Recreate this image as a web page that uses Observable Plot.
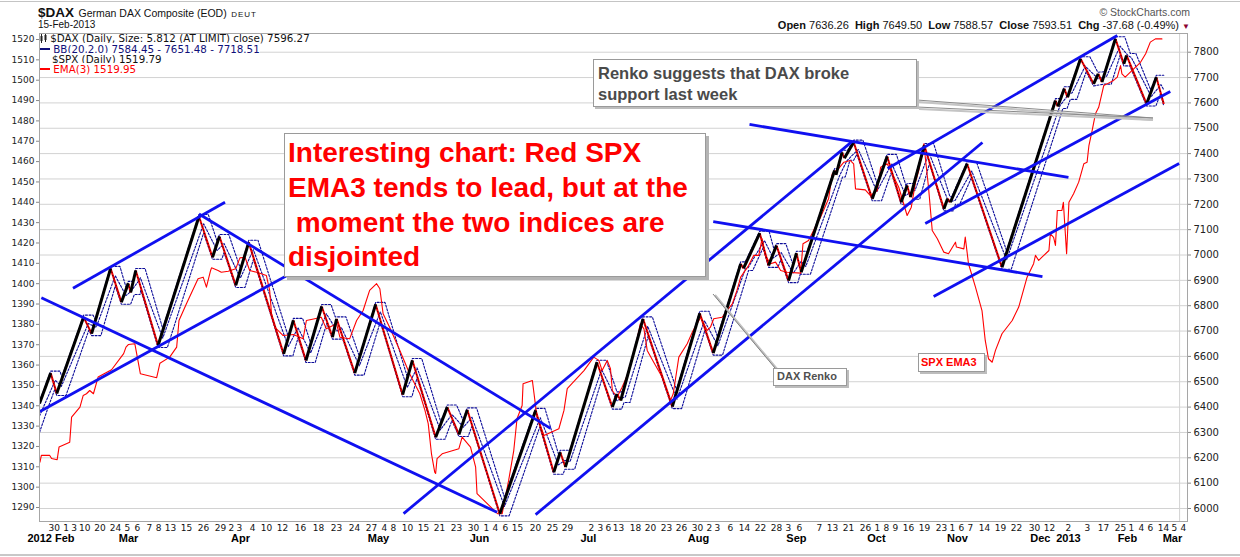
<!DOCTYPE html>
<html><head><meta charset="utf-8">
<script src="https://cdn.jsdelivr.net/npm/d3@7"></script>
<script src="https://cdn.jsdelivr.net/npm/@observablehq/plot@0.6"></script>
<style>
html,body{margin:0;padding:0;background:#fff;}
#wrap{position:relative;width:1240px;height:557px;overflow:hidden;font-family:"Liberation Sans",Arial,sans-serif;color:#111;}
.abs{position:absolute;white-space:pre;}
#chart{position:absolute;left:0;top:30px;}
.box{position:absolute;background:#fff;border:1px solid #9a9a9a;box-shadow:3px 3px 0 #b4b4b4;box-sizing:border-box;white-space:pre;}
.lg{position:absolute;white-space:pre;font-family:"DejaVu Sans",sans-serif;font-size:10.3px;line-height:10px;}
</style></head><body>
<div id="wrap">
  <div class="abs" style="left:0;top:1px;width:1240px;border-top:1px solid #c4c4c4"></div>
  <div class="abs" style="left:0;top:554px;width:1240px;border-top:2px solid #c8c8c8"></div>
  <div class="abs" style="left:38px;top:4px;line-height:15px;"><span style="font-weight:bold;font-size:13.5px">$DAX</span> <span style="font-size:10.5px">German DAX Composite (EOD)</span> <span style="font-size:8px;letter-spacing:1px">DEUT</span></div>
  <div class="abs" style="left:38px;top:19px;font-size:10px;line-height:11px;">15-Feb-2013</div>
  <div class="abs" style="right:50px;top:6px;font-size:10.5px;line-height:12px;color:#555;">© StockCharts.com</div>
  <div class="abs" style="right:50px;top:20px;font-size:11px;line-height:11px;"><b>Open</b> 7636.26&nbsp; <b>High</b> 7649.50&nbsp; <b>Low</b> 7588.57&nbsp; <b>Close</b> 7593.51&nbsp; <b>Chg</b> -37.68 (-0.49%) <span style="color:#8b0030;font-size:8px">▼</span></div>
  <div id="chart"></div>
  <svg id="over" width="1240" height="557" style="position:absolute;left:0;top:0;pointer-events:none">
    <line x1="919" y1="102" x2="1153" y2="120" stroke="#c4c4c4" stroke-width="2"/>
    <line x1="919" y1="109" x2="1153" y2="120" stroke="#c4c4c4" stroke-width="2"/>
    <line x1="917" y1="100" x2="1153" y2="118" stroke="#8a8a8a" stroke-width="1"/>
    <line x1="917" y1="107" x2="1153" y2="118" stroke="#8a8a8a" stroke-width="1"/>
    <line x1="715" y1="295" x2="777" y2="369" stroke="#c0c0c0" stroke-width="2"/>
    <line x1="713" y1="294" x2="775" y2="368" stroke="#808080" stroke-width="1"/>
  </svg>
  <div class="box" style="left:284px;top:133px;width:422px;height:144px;padding:2px 0 0 3px;color:#ff0000;font-weight:bold;font-size:28px;line-height:34.8px;">Interesting chart: Red SPX
EMA3 tends to lead, but at the
 moment the two indices are
disjointed</div>
  <div class="box" style="left:593px;top:59px;width:324px;height:48px;padding:3px 0 0 4px;color:#4a4a4a;font-weight:bold;font-size:16.5px;line-height:21px;box-shadow:2px 2px 0 #bdbdbd;">Renko suggests that DAX broke
support last week</div>
  <div class="box" style="left:773px;top:368px;width:74px;height:18px;padding:0 0 0 3px;color:#505050;font-weight:bold;font-size:11px;line-height:14px;box-shadow:2px 2px 0 #bdbdbd;">DAX Renko</div>
  <div class="box" style="left:918px;top:353px;width:67px;height:19px;padding:1px 0 0 2px;color:#ff0000;font-weight:bold;font-size:11px;line-height:14px;box-shadow:2px 2px 0 #bdbdbd;">SPX EMA3</div>
  <div class="lg" style="left:40px;top:33px;"><svg width="7" height="9" style="vertical-align:-1px"><rect x="0.5" y="2" width="2" height="5" fill="#222"/><line x1="1.5" y1="0" x2="1.5" y2="9" stroke="#222"/><rect x="4.5" y="1" width="2" height="5" fill="#222"/><line x1="5.5" y1="0" x2="5.5" y2="8" stroke="#222"/></svg> $DAX (Daily, Size: 5.812 (AT LIMIT) close) 7596.27</div>
  <div class="lg" style="left:40px;top:44px;color:#10107a;"><span style="background:#fff"><svg width="10" height="8" style="vertical-align:0px"><line x1="0" y1="4" x2="10" y2="4" stroke="#10107a" stroke-width="2"/></svg> BB(20,2.0) 7584.45 - 7651.48 - 7718.51</span></div>
  <div class="lg" style="left:52px;top:54px;"><span style="background:#fff">$SPX (Daily) 1519.79</span></div>
  <div class="lg" style="left:40px;top:64px;color:#ff0000;"><span style="background:#fff"><svg width="10" height="8" style="vertical-align:0px"><line x1="0" y1="4" x2="10" y2="4" stroke="#ff0000" stroke-width="2"/></svg> EMA(3) 1519.95</span></div>
</div>
<script>
// ---- DAX Renko (brick index, close) turning points ----
const renkoPivots = [[0,6414],[24,6534],[37,6454],[95,6755],[112,6690],[153,6947],[176,6814],[191,6888],[196,6852],[207,6939],[255,6643],[343,7152],[372,6991],[387,7073],[422,6880],[450,7050],[525,6610],[546,6742],[573,6584],[607,6797],[630,6676],[639,6748],[678,6534],[723,6805],[781,6449],[802,6584],[852,6281],[877,6400],[902,6292],[920,6389],[990,5979],[1067,6387],[1106,6143],[1120,6222],[1131,6163],[1199,6577],[1232,6400],[1242,6452],[1250,6426],[1298,6748],[1361,6402],[1420,6770],[1449,6613],[1508,6965],[1514,6947],[1549,7086],[1568,6959],[1585,7037],[1611,6899],[1628,7007],[1638,6932],[1710,7333],[1713,7316],[1726,7405],[1731,7382],[1751,7445],[1791,7222],[1823,7389],[1853,7208],[1866,7274],[1873,7228],[1903,7432],[1945,7182],[1953,7222],[1959,7208],[1995,7360],[2070,6952],[2185,7609],[2190,7586],[2204,7656],[2211,7622],[2239,7774],[2267,7675],[2277,7715],[2285,7682],[2314,7853],[2332,7754],[2338,7787],[2381,7596],[2402,7701],[2418,7596]];

// ---- Bollinger Bands (20,2) on the bricks ----
const bbUpper = [[0,6422],[24,6542],[44,6542],[48,6519],[95,6763],[115,6763],[120,6746],[153,6955],[173,6955],[186,6873],[191,6896],[201,6896],[207,6947],[227,6947],[265,6710],[343,7160],[363,7160],[382,7054],[387,7081],[407,7081],[432,6947],[450,7058],[470,7058],[535,6679],[546,6750],[566,6750],[583,6653],[607,6805],[627,6805],[636,6756],[659,6756],[688,6600],[723,6813],[743,6813],[791,6519],[802,6592],[822,6592],[863,6342],[877,6408],[897,6408],[911,6348],[920,6397],[940,6397],[1000,6044],[1067,6395],[1087,6395],[1117,6210],[1120,6230],[1141,6230],[1199,6585],[1219,6585],[1242,6460],[1254,6460],[1298,6756],[1318,6756],[1370,6469],[1420,6778],[1440,6778],[1458,6678],[1508,6973],[1518,6973],[1549,7094],[1569,7094],[1580,7021],[1585,7045],[1605,7045],[1620,6965],[1628,7015],[1648,7015],[1651,7013],[1710,7341],[1716,7341],[1726,7413],[1738,7413],[1751,7453],[1771,7453],[1801,7284],[1823,7397],[1843,7397],[1864,7271],[1866,7282],[1880,7282],[1903,7440],[1923,7440],[1958,7230],[1962,7230],[1995,7368],[2015,7368],[2080,7016],[2185,7617],[2195,7617],[2204,7664],[2217,7664],[2239,7782],[2259,7782],[2276,7721],[2291,7723],[2314,7861],[2334,7861],[2346,7795],[2358,7795],[2390,7651],[2402,7709],[2418,7709]];
const bbMiddle = [[0,6365],[34,6506],[47,6482],[105,6730],[122,6715],[163,6918],[186,6840],[196,6855],[212,6895],[217,6910],[265,6672],[353,7123],[382,7018],[397,7045],[432,6909],[460,7021],[535,6639],[556,6713],[583,6613],[617,6768],[640,6700],[649,6715],[688,6563],[733,6776],[791,6478],[812,6555],[862,6310],[887,6371],[912,6321],[930,6360],[1000,6008],[1077,6358],[1116,6172],[1130,6190],[1141,6185],[1209,6548],[1242,6425],[1252,6435],[1260,6440],[1308,6719],[1371,6431],[1430,6741],[1459,6642],[1518,6945],[1524,6950],[1559,7057],[1578,6988],[1595,7010],[1621,6928],[1638,6975],[1648,6955],[1720,7310],[1736,7370],[1746,7390],[1761,7416],[1801,7251],[1833,7360],[1863,7235],[1876,7250],[1883,7255],[1913,7403],[1955,7210],[1969,7215],[2005,7331],[2080,6981],[2195,7590],[2214,7635],[2221,7640],[2249,7745],[2277,7695],[2287,7700],[2295,7705],[2324,7824],[2342,7785],[2348,7780],[2391,7625],[2412,7672],[2418,7651]];
const bbLower = [[0,6300],[20,6406],[33,6471],[37,6446],[57,6446],[106,6703],[112,6682],[132,6682],[163,6878],[176,6806],[196,6806],[204,6844],[216,6844],[218,6861],[255,6635],[275,6635],[353,7087],[372,6983],[392,6983],[397,7010],[422,6872],[442,6872],[460,6982],[525,6602],[545,6602],[556,6673],[573,6576],[593,6576],[618,6732],[630,6668],[650,6668],[651,6675],[678,6526],[698,6526],[733,6736],[781,6441],[801,6441],[812,6515],[852,6273],[872,6273],[887,6347],[902,6284],[922,6284],[930,6325],[990,5971],[1010,5971],[1076,6322],[1106,6135],[1126,6135],[1130,6155],[1151,6155],[1210,6513],[1232,6392],[1252,6392],[1257,6418],[1270,6418],[1309,6680],[1361,6394],[1381,6394],[1431,6703],[1449,6605],[1469,6605],[1525,6939],[1534,6939],[1556,7028],[1568,6951],[1588,6951],[1594,6980],[1611,6891],[1631,6891],[1637,6930],[1638,6924],[1658,6924],[1727,7308],[1733,7308],[1743,7374],[1751,7374],[1758,7397],[1791,7214],[1811,7214],[1832,7326],[1853,7200],[1873,7200],[1877,7220],[1893,7220],[1914,7361],[1945,7174],[1965,7174],[1970,7200],[1979,7200],[2004,7304],[2070,6944],[2090,6944],[2201,7578],[2210,7578],[2217,7614],[2231,7614],[2251,7723],[2267,7667],[2289,7674],[2305,7674],[2324,7788],[2332,7746],[2345,7746],[2381,7588],[2401,7588],[2411,7636],[2418,7588]];

// ---- $SPX EMA(3), left axis ----
const spxEma3 = [[1,1312.3],[4,1315.6],[22,1315.6],[26,1314.1],[38,1313.5],[42,1319.7],[65,1322.1],[69,1334.4],[87,1339.3],[94,1345.1],[101,1345.9],[108,1347.5],[116,1345.9],[123,1351.6],[126,1354.1],[155,1357.7],[181,1365.6],[186,1368.8],[191,1370.1],[205,1370.5],[217,1355.7],[252,1353.8],[259,1360.9],[280,1363.9],[295,1368.8],[300,1381.9],[316,1390.1],[341,1402.4],[352,1403.2],[359,1398.3],[368,1406.5],[370,1407.8],[384,1406.5],[391,1405.6],[406,1406.1],[422,1407.3],[431,1412.7],[442,1413],[452,1406.5],[467,1405.6],[488,1404],[495,1396.7],[499,1385.2],[506,1378.6],[524,1374.5],[546,1375],[567,1372.9],[574,1381.9],[592,1382.8],[606,1383.5],[617,1377.8],[639,1380.3],[646,1373.7],[667,1372.9],[682,1381.9],[696,1386.8],[710,1396.7],[725,1400],[732,1397.5],[739,1385.2],[753,1378.6],[775,1367.2],[796,1355.7],[818,1345.9],[829,1337.7],[836,1331.2],[843,1316.4],[850,1307.4],[852,1306.7],[855,1314],[866,1316.4],[902,1318.9],[909,1324.6],[927,1319.7],[938,1309.8],[941,1296.8],[974,1289.4],[986,1286.9],[995,1286.9],[1009,1303.3],[1020,1318],[1027,1333.6],[1038,1340.1],[1040,1350.8],[1060,1352.4],[1070,1334.4],[1085,1325.4],[1117,1328.7],[1128,1337.7],[1135,1348.4],[1171,1357.3],[1192,1363.9],[1203,1362.3],[1210,1357.3],[1221,1362.3],[1228,1358.2],[1232,1347.5],[1242,1344.2],[1253,1349.1],[1264,1354.9],[1284,1371.3],[1292,1380.3],[1300,1377.8],[1307,1367.2],[1321,1361.4],[1339,1354.1],[1357,1342.6],[1363,1345.9],[1375,1363.9],[1393,1370.5],[1404,1376.2],[1422,1383.5],[1436,1377],[1443,1378.6],[1450,1382.8],[1468,1383.5],[1479,1386.8],[1490,1390.1],[1500,1396.7],[1508,1403.2],[1525,1408.9],[1536,1413.9],[1547,1413.9],[1554,1422.1],[1561,1413.9],[1572,1409.8],[1583,1410.6],[1594,1406.5],[1608,1405.6],[1637,1405.2],[1642,1419.6],[1654,1421.2],[1672,1429.4],[1680,1432.7],[1697,1441.7],[1705,1454],[1715,1455.6],[1730,1459.7],[1744,1460.5],[1751,1458.9],[1755,1446.6],[1776,1446.1],[1787,1443.3],[1802,1445.8],[1809,1457.2],[1823,1458.9],[1834,1454],[1848,1447.4],[1866,1433.5],[1875,1437.6],[1884,1449.9],[1891,1455.6],[1902,1468.7],[1912,1447.4],[1920,1426.1],[1931,1422.1],[1945,1415.5],[1955,1414.7],[1970,1420.4],[1972,1418],[1988,1417.1],[1991,1422.9],[1998,1409.8],[2013,1398.3],[2027,1386.8],[2034,1372.1],[2041,1363.1],[2049,1361.4],[2056,1367.2],[2070,1375.4],[2092,1381.9],[2106,1388.5],[2124,1403.2],[2131,1406.5],[2138,1409.8],[2142,1413.9],[2149,1411.4],[2156,1413],[2171,1416.3],[2174,1424.5],[2181,1422.8],[2185,1418.8],[2189,1436],[2199,1436],[2202,1440],[2209,1414.7],[2214,1440],[2224,1444.2],[2235,1449.9],[2246,1458.9],[2253,1459.7],[2257,1467.9],[2264,1475.3],[2271,1483.5],[2278,1486.7],[2289,1497.4],[2296,1498.2],[2310,1499.9],[2318,1501.5],[2325,1507.2],[2328,1503.1],[2335,1501.5],[2350,1504.8],[2368,1508.8],[2379,1513],[2389,1518.7],[2400,1520.3],[2414,1520.3]];

// ---- hand-drawn trend lines: [x1, dax1, x2, dax2] ----
const trendLines = [[72,6869,399,7208],[1,6383,583,6970],[343,7162,1099,6316],[4,6831,984,5985],[783,5980,1748,7448],[1067,5976,2028,7444],[1527,7515,2213,7306],[1449,7132,2157,6915],[1824,7341,2318,7866],[1905,7124,2432,7645],[1923,6836,2451,7361]];

// ---- axes ----
const daxTicks = [6000,6100,6200,6300,6400,6500,6600,6700,6800,6900,7000,7100,7200,7300,7400,7500,7600,7700,7800];
const spxTicks = [1290,1300,1310,1320,1330,1340,1350,1360,1370,1380,1390,1400,1410,1420,1430,1440,1450,1460,1470,1480,1490,1500,1510,1520];
const dayTickPos = [31.6,57.2,74.2,97.4,129.9,163.4,189.2,210.7,236.5,255.9,281.7,316.1,352.7,389.2,412.9,430.1,458.1,488.2,522.6,561.3,600,638.7,677.4,714,741.9,761.3,791.4,825.8,860.2,896.8,933.3,961.3,980.6,1002.1,1027.9,1066.6,1103.2,1135.4,1187,1206.4,1223.6,1245.1,1281.7,1314,1348.4,1380.6,1415,1440.8,1458,1486,1516.1,1550.5,1584.9,1610.7,1634.4,1677.4,1705.4,1739.8,1776.3,1802.1,1821.5,1840.9,1868.8,1903.2,1939.8,1963.4,1982.8,2002.1,2032.2,2066.6,2101,2139.8,2172,2212.9,2253.7,2288.1,2324.7,2348.3,2369.8,2389.2,2417.2,2440.8,2460.1];
const dayTickText = ["30","1","3","10","20","24","5","6","7","8","13","15","26","29","2","3","4","10","12","16","18","23","24","27","4","8","10","15","21","23","30","1","4","6","15","20","25","29","2","3","6","13","18","20","23","26","30","2","3","6","14","22","28","3","6","7","13","21","26","1","8","9","16","19","23","1","6","7","14","19","22","30","12","2","3","17","25","1","4","6","14","5","4"];
const monthPos = [24.7,191.4,432.2,729.0,946.2,1180.6,1417.2,1627.9,1800.0,1974.2,2152.6,2212.9,2339.8,2436.6];
const monthText = ["2012 Feb","Mar","Apr","May","Jun","Jul","Aug","Sep","Oct","Nov","Dec","2013","Feb","Mar"];

// left (SPX) axis expressed in right (DAX) units
const spx2dax = d3.scaleLinear().domain([1290, 1520]).range([6003.9, 7850.1]);

const renkoSegs = renkoPivots.slice(1).map((p, i) => ({x1: renkoPivots[i][0], y1: renkoPivots[i][1], x2: p[0], y2: p[1], up: p[1] > renkoPivots[i][1]}));
const upSegs = renkoSegs.filter(s => s.up), downSegs = renkoSegs.filter(s => !s.up);

const bandStyle = {stroke: "#0c0c9a", strokeWidth: 1.1, strokeDasharray: "2,1.6", clip: true};

const chart = Plot.plot({
  width: 1240, height: 527,
  marginTop: 3, marginRight: 53, marginBottom: 36, marginLeft: 39,
  x: {domain: [0, 2469], axis: null},
  y: {domain: [5948.7, 7873.8], axis: null},
  style: {fontFamily: "DejaVu Sans, sans-serif", fontSize: "9px", color: "#222", background: "transparent", overflow: "visible"},
  marks: [
    Plot.gridY(daxTicks, {stroke: "#d2d2d2", strokeOpacity: 1}),
    Plot.ruleX([2452], {stroke: "#d2d2d2"}),
    Plot.line(bbUpper, {x: d => d[0], y: d => d[1], ...bandStyle}),
    Plot.line(bbMiddle, {x: d => d[0], y: d => d[1], ...bandStyle}),
    Plot.line(bbLower, {x: d => d[0], y: d => d[1], ...bandStyle}),
    Plot.line(spxEma3, {x: d => d[0], y: d => spx2dax(d[1]), stroke: "#ff0000", strokeWidth: 1.1, clip: true}),
    Plot.link(downSegs, {x1: "x1", y1: "y1", x2: "x2", y2: "y2", stroke: "#ee0000", strokeWidth: 2, clip: true}),
    Plot.link(downSegs, {x1: "x1", y1: "y1", x2: "x2", y2: "y2", stroke: "#000", strokeWidth: 0.9, strokeDasharray: "1,2.5", clip: true}),
    Plot.link(upSegs, {x1: "x1", y1: "y1", x2: "x2", y2: "y2", stroke: "#000", strokeWidth: 3, clip: true}),
    Plot.link(trendLines, {x1: d => d[0], y1: d => d[1], x2: d => d[2], y2: d => d[3], stroke: "#1010f0", strokeWidth: 2.8, clip: true}),
    Plot.frame({stroke: "#a6a6a6"}),
    Plot.axisY(spxTicks.map(v => spx2dax(v)), {anchor: "left", tickSize: 3, tickPadding: 2, fontSize: 9, stroke: "#888", tickFormat: d => String(Math.round(spx2dax.invert(d))), label: null}),
    Plot.axisY(daxTicks, {anchor: "right", tickSize: 3, tickPadding: 3, fontSize: 10, stroke: "#888", tickFormat: d => String(d), label: null}),
    Plot.text(dayTickPos, {x: d => d, text: (d, i) => dayTickText[i], frameAnchor: "bottom", dy: 9, fontSize: 9, fill: "#111"}),
    Plot.text(monthPos, {x: d => d, text: (d, i) => monthText[i], frameAnchor: "bottom", dy: 20, fontSize: 11, fontWeight: "bold", fontFamily: "Liberation Sans, Arial, sans-serif", fill: "#000"})
  ]
});
document.getElementById("chart").append(chart);
</script>
</body></html>
